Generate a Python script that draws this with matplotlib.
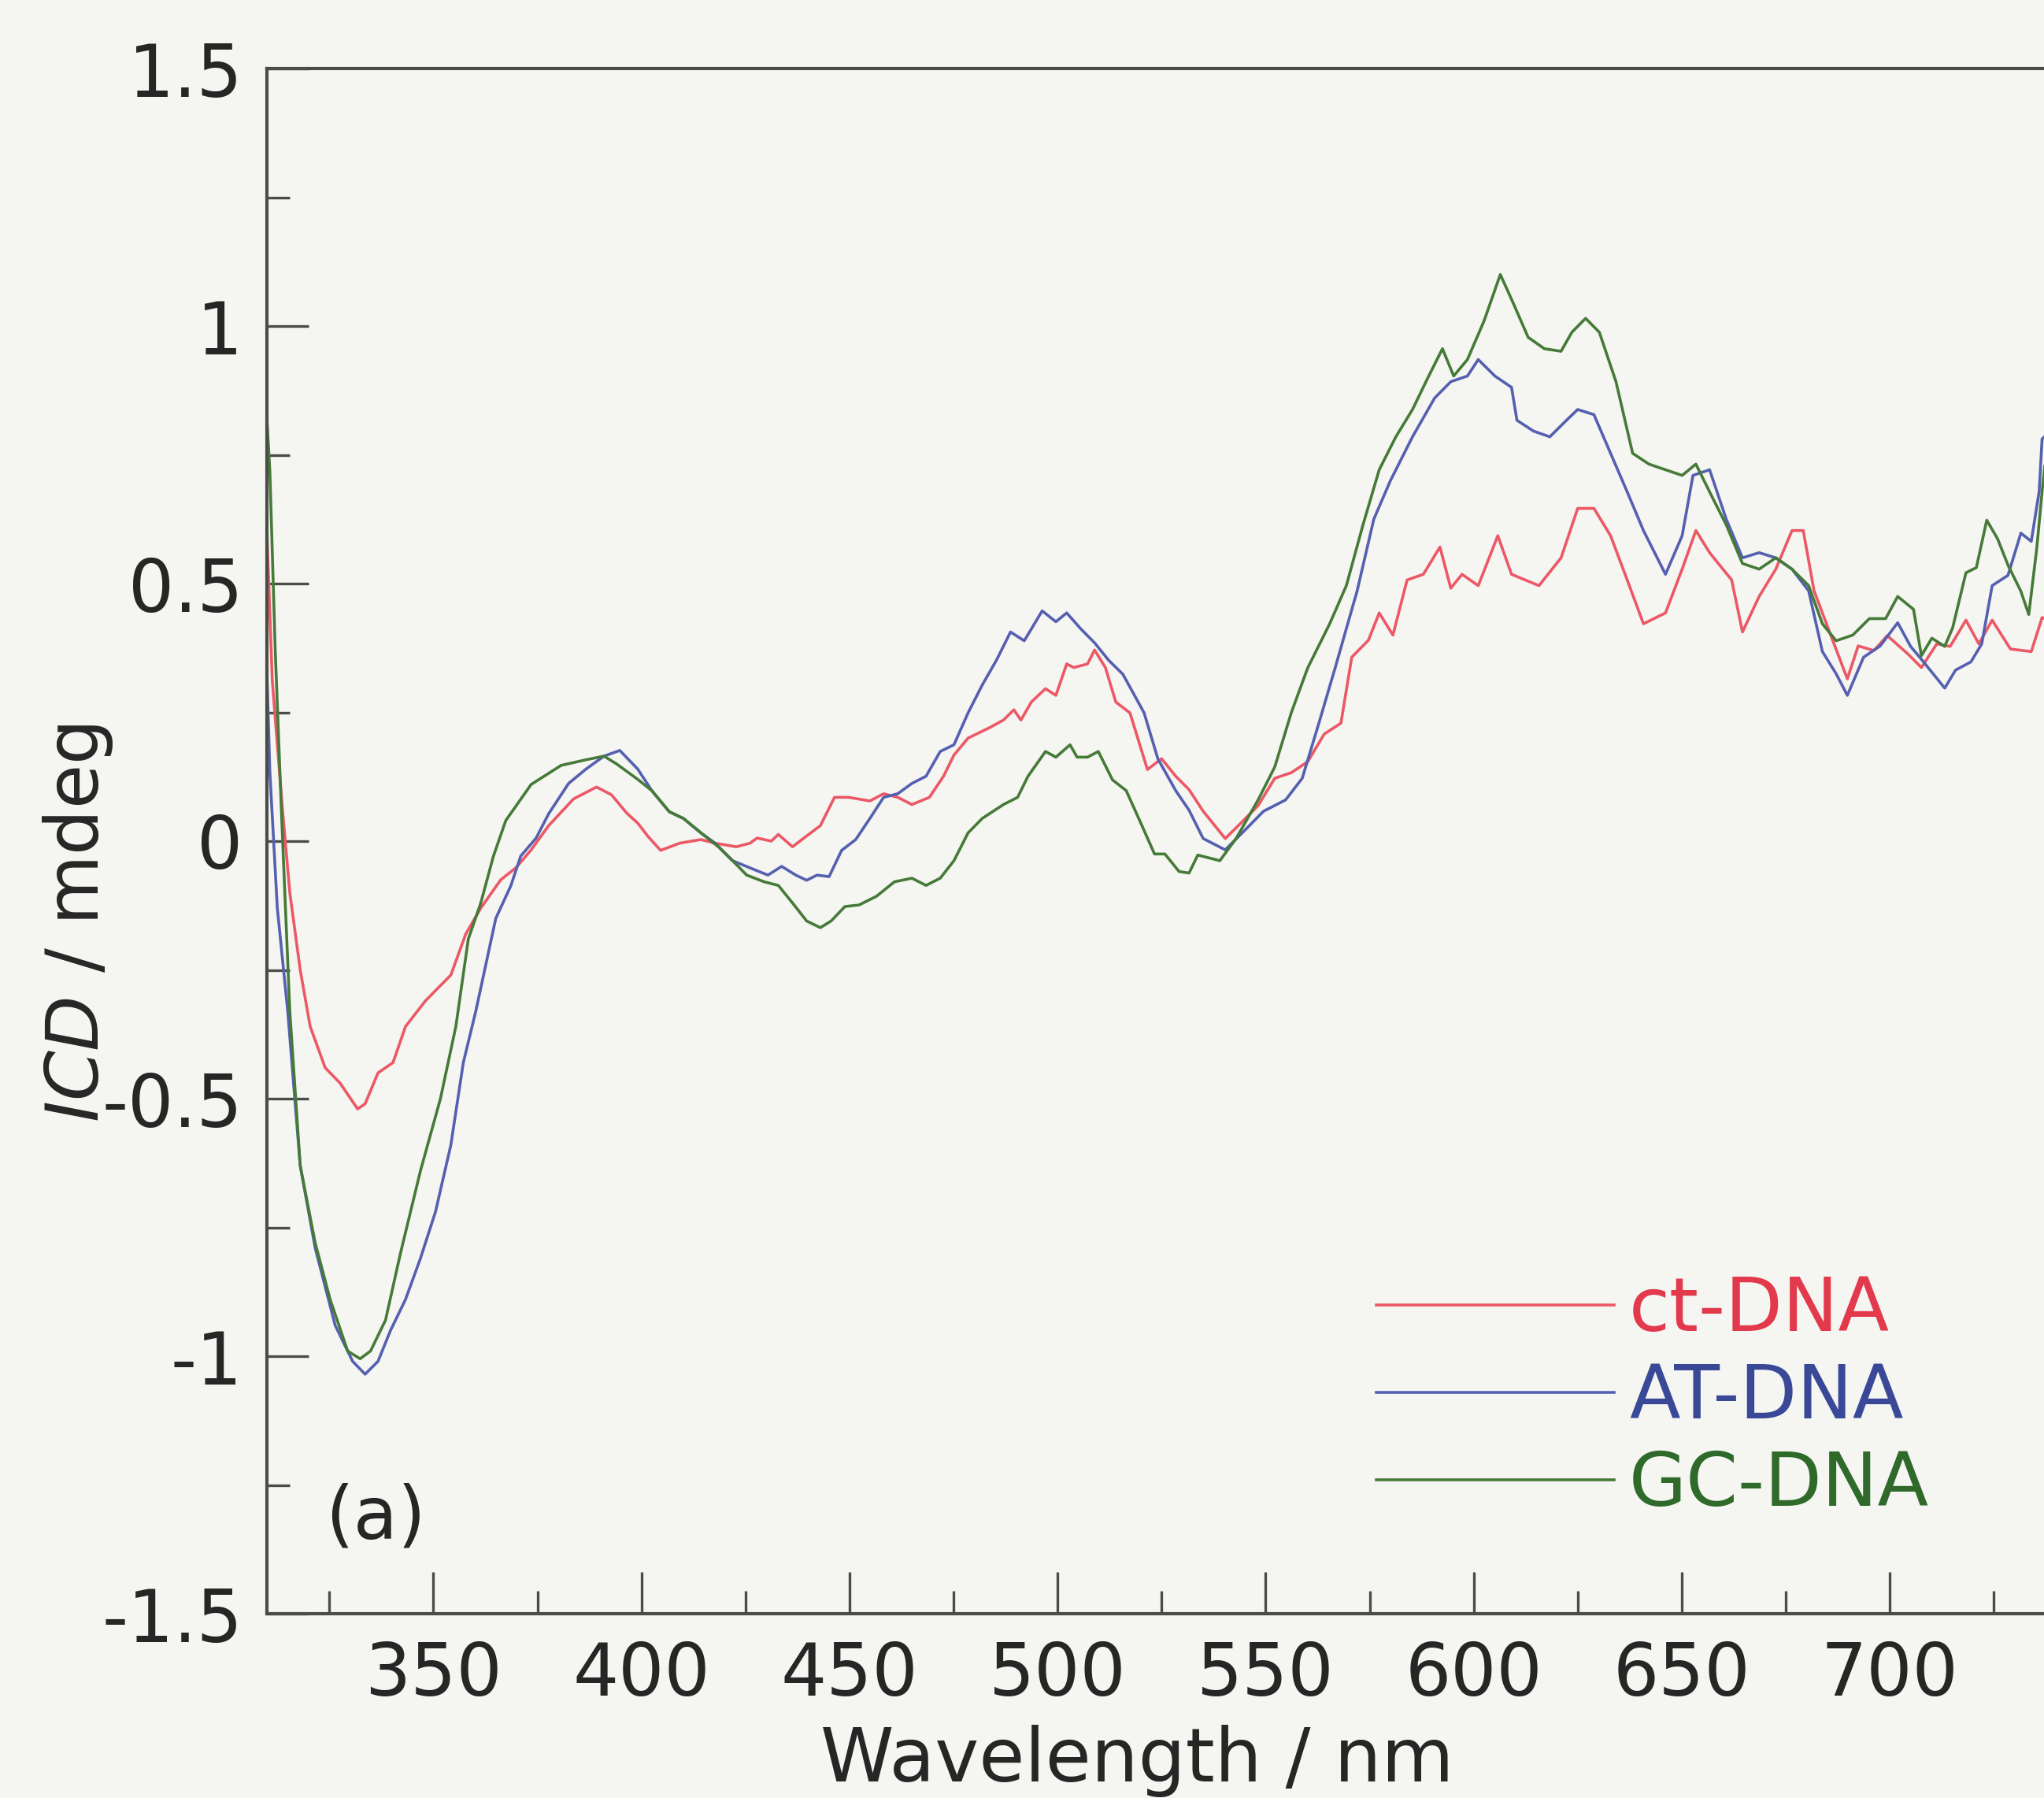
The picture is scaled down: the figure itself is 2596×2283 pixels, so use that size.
import matplotlib
matplotlib.use("Agg")
import matplotlib.pyplot as plt
from matplotlib.ticker import MultipleLocator, FixedLocator

# ---------------------------------------------------------------
# Induced CD spectra (ICD / mdeg) against wavelength (nm)
# ---------------------------------------------------------------
wl_ct = [310, 311.3, 313.7, 315.5, 318, 320.4, 324, 327.6, 331.8, 333.6, 336.7,
         340.3, 343.3, 348.1, 354.2, 357.8, 361.4, 366.2, 369.8, 373.5, 377.7,
         383.7, 389.2, 392.8, 396.4, 399.1, 401.6, 404.6, 409.2, 414.3, 417.7,
         422.8, 426.1, 427.8, 431.2, 432.9, 436.3, 439.7, 443, 446.4, 449.8,
         454.9, 458.2, 461.6, 465, 469.2, 472.6, 475.1, 478.5, 483.6, 487,
         489.5, 491.2, 493.7, 497.1, 499.6, 502.2, 503.9, 507.2, 508.9, 511.5,
         514, 517.4, 521.6, 525, 528.4, 531.6, 535, 540.3, 544.3, 548.2, 552.2,
         556.2, 560.1, 564.1, 568.1, 570.7, 574.7, 577.3, 580.6, 584, 587.9,
         591.9, 594.5, 597.2, 601.1, 605.8, 609.1, 615.7, 621, 625, 628.9,
         632.9, 636.9, 640.8, 646.1, 650.1, 653.4, 656.7, 662, 664.6, 668.6,
         672.6, 676.5, 679.2, 681.8, 685.8, 689.8, 692.4, 696.2, 699.4, 704.4,
         707.6, 711.3, 714.5, 718.3, 721.4, 724.6, 729, 734, 736.6, 738]
icd_ct = [0.60, 0.31, 0.065, -0.10, -0.25, -0.36, -0.44, -0.47, -0.52, -0.51, -0.45,
          -0.43, -0.36, -0.31, -0.26, -0.18, -0.13, -0.075, -0.052, -0.017, 0.03,
          0.082, 0.105, 0.09, 0.055, 0.035, 0.009, -0.018, -0.004, 0.003, -0.004,
          -0.011, -0.004, 0.006, 0.0, 0.013, -0.011, 0.01, 0.03, 0.085, 0.085,
          0.078, 0.092, 0.085, 0.071, 0.085, 0.126, 0.167, 0.20, 0.22, 0.235,
          0.255, 0.235, 0.27, 0.296, 0.283, 0.344, 0.337, 0.344, 0.371, 0.337,
          0.27, 0.249, 0.139, 0.16, 0.126, 0.10, 0.058, 0.005, 0.037, 0.069, 0.122,
          0.133, 0.154, 0.208, 0.229, 0.357, 0.39, 0.443, 0.40, 0.507, 0.518,
          0.571, 0.491, 0.518, 0.496, 0.593, 0.518, 0.496, 0.55, 0.646, 0.646,
          0.593, 0.507, 0.422, 0.443, 0.528, 0.603, 0.56, 0.507, 0.406, 0.475,
          0.528, 0.603, 0.603, 0.486, 0.40, 0.315, 0.379, 0.37, 0.399, 0.363,
          0.337, 0.383, 0.378, 0.429, 0.383, 0.429, 0.373, 0.368, 0.434, 0.43]

wl_at = [310, 310.7, 312.5, 315, 318, 321.6, 326.4, 330.6, 333.6, 336.7, 339.7,
         343.3, 346.9, 350.5, 354.2, 357.2, 360.2, 362.6, 365, 368.6, 371, 374.7,
         377.7, 382.5, 386.7, 391, 394.8, 399.1, 402.5, 406.7, 410.1, 414.3,
         417.7, 421.9, 426.1, 430.4, 433.7, 437.1, 439.7, 442.2, 445.1, 448.1,
         451.5, 454.9, 458.2, 461.6, 465, 468.4, 471.8, 475.1, 478.5, 481.9,
         485.3, 488.7, 492, 496.3, 499.6, 502.2, 505.6, 508.9, 512.3, 515.7,
         520.8, 524.1, 528.4, 531.6, 535, 540.3, 545.6, 549.5, 554.8, 558.8,
         562.8, 566.7, 572, 576, 580, 585.3, 590.6, 594.5, 598.5, 601.1, 605.1,
         609.1, 610.4, 614.4, 618.3, 622.3, 625, 628.9, 632.9, 636.9, 640.8,
         646.1, 650.1, 652.7, 656.7, 660.7, 664.6, 668.6, 672.6, 676.5, 680.5,
         683.8, 687.1, 689.8, 693.7, 697.7, 701.9, 705, 707.6, 713.2, 715.8,
         719.5, 722.1, 724.6, 728.4, 731.5, 734, 735.9, 736.6, 738]
icd_at = [0.33, 0.135, -0.13, -0.33, -0.63, -0.79, -0.94, -1.01, -1.035, -1.01, -0.95,
          -0.89, -0.81, -0.72, -0.59, -0.43, -0.33, -0.24, -0.15, -0.087, -0.029, 0.006,
          0.053, 0.112, 0.14, 0.165, 0.176, 0.14, 0.098, 0.057, 0.044, 0.016,
          -0.004, -0.038, -0.052, -0.066, -0.049, -0.066, -0.076, -0.066, -0.069, -0.018,
          0.003, 0.044, 0.085, 0.092, 0.112, 0.126, 0.174, 0.187, 0.249, 0.303,
          0.351, 0.406, 0.389, 0.447, 0.426, 0.443, 0.412, 0.385, 0.351, 0.324,
          0.249, 0.16, 0.098, 0.06, 0.005, -0.017, 0.026, 0.058, 0.08, 0.122,
          0.229, 0.336, 0.486, 0.625, 0.70, 0.785, 0.86, 0.892, 0.903, 0.935, 0.903,
          0.881, 0.817, 0.796, 0.785, 0.817, 0.838, 0.828, 0.753, 0.678, 0.603,
          0.518, 0.593, 0.71, 0.721, 0.625, 0.55, 0.56, 0.55, 0.528, 0.486,
          0.368, 0.325, 0.283, 0.357, 0.379, 0.424, 0.378, 0.353, 0.297, 0.332,
          0.348, 0.383, 0.496, 0.516, 0.598, 0.582, 0.679, 0.781, 0.79]

wl_gc = [310, 310.7, 312, 313.4, 314.3, 315.5, 318, 321.6, 325.2, 329.4, 332.4,
         334.9, 338.5, 342.1, 346.9, 351.7, 355.4, 358.4, 361.4, 364.4, 367.4,
         373.5, 380.7, 386.7, 391, 394, 399.1, 402.5, 406.7, 410.1, 414.3, 418.5,
         421.9, 425.3, 429.5, 432.9, 436.3, 439.7, 443, 445.6, 448.9, 452.3,
         456.5, 460.8, 465, 468.4, 471.8, 475.1, 478.5, 481.9, 487, 490.4, 492.9,
         497.1, 499.6, 503, 504.7, 507.2, 509.8, 513.2, 516.5, 519.9, 523.3,
         525.8, 529.2, 531.6, 533.7, 539, 542.9, 548.2, 552.2, 556.2, 560.1,
         565.4, 569.4, 573.4, 577.3, 581.3, 585.3, 589.2, 592.5, 595.2, 598.5,
         602.5, 606.4, 609.1, 613.1, 617, 621, 623.6, 626.9, 630.2, 634.2, 638.2,
         642.1, 646.1, 650.1, 653.4, 656.7, 660.7, 664.6, 668.6, 672.6, 676.5,
         680.5, 683.8, 687.1, 691.1, 695.1, 699, 701.9, 705.7, 707.6, 710.1,
         713.2, 715.1, 718.3, 720.8, 723.3, 725.9, 728.4, 731.5, 733.4, 735.3,
         736.6, 738]
icd_gc = [0.82, 0.72, 0.37, 0.076, -0.10, -0.33, -0.63, -0.78, -0.89, -0.99, -1.005,
          -0.99, -0.93, -0.80, -0.64, -0.50, -0.36, -0.19, -0.12, -0.03, 0.04,
          0.11, 0.147, 0.158, 0.165, 0.15, 0.12, 0.098, 0.057, 0.044, 0.016, -0.011,
          -0.038, -0.066, -0.079, -0.086, -0.12, -0.155, -0.168, -0.155, -0.127, -0.124,
          -0.107, -0.079, -0.072, -0.086, -0.072, -0.038, 0.016, 0.044, 0.071, 0.085, 0.126,
          0.174, 0.163, 0.187, 0.163, 0.163, 0.174, 0.119, 0.098, 0.037, -0.025,
          -0.025, -0.059, -0.062, -0.027, -0.038, 0.005, 0.08, 0.144, 0.25, 0.336,
          0.422, 0.496, 0.614, 0.721, 0.785, 0.838, 0.903, 0.956, 0.903, 0.935,
          1.01, 1.10, 1.052, 0.978, 0.956, 0.951, 0.988, 1.015, 0.988, 0.892, 0.753,
          0.732, 0.721, 0.71, 0.732, 0.678, 0.614, 0.539, 0.528, 0.55, 0.528,
          0.496, 0.422, 0.389, 0.40, 0.432, 0.432, 0.475, 0.45, 0.36, 0.394,
          0.378, 0.414, 0.521, 0.531, 0.623, 0.587, 0.536, 0.485, 0.44, 0.567,
          0.679, 0.785]

series_labels = ["ct-DNA", "AT-DNA", "GC-DNA"]
y_tick_values = [-1.5, -1, -0.5, 0, 0.5, 1, 1.5]
y_tick_labels = ["-1.5", "-1", "-0.5", "0", "0.5", "1", "1.5"]
x_tick_values = [350, 400, 450, 500, 550, 600, 650, 700]

line_colors = ["#ec5866", "#5560b0", "#467a38"]
text_colors = ["#e23a4c", "#3a4898", "#2f6a2a"]
axis_color = "#4a4d46"
label_color = "#262626"
paper = "#f5f6f2"

plt.rcParams["font.family"] = ["DejaVu Sans"]
plt.rcParams["mathtext.fontset"] = "dejavusans"

W, H = 2596, 2283
fig = plt.figure(figsize=(W / 100, H / 100), dpi=100, facecolor=paper)

left_px, top_px, bottom_px = 339, 87, 2049
px_per_nm = 5.285
x0, x1 = 310, 750
ax = fig.add_axes([left_px / W, 1 - bottom_px / H,
                   (x1 - x0) * px_per_nm / W, (bottom_px - top_px) / H])
ax.set_facecolor(paper)

for wl, icd, col, lab in zip([wl_ct, wl_at, wl_gc], [icd_ct, icd_at, icd_gc],
                             line_colors, series_labels):
    ax.plot(wl, icd, color=col, lw=2.6, label=lab, solid_joinstyle="round")

ax.set_xlim(x0, x1)
ax.set_ylim(-1.5, 1.5)

ax.xaxis.set_major_locator(FixedLocator(x_tick_values))
ax.xaxis.set_minor_locator(MultipleLocator(25))
ax.yaxis.set_major_locator(FixedLocator(y_tick_values))
ax.set_yticklabels(y_tick_labels)
ax.yaxis.set_minor_locator(MultipleLocator(0.25))

ax.tick_params(which="both", direction="in", color=axis_color, width=2.4,
               top=False, right=False)
ax.tick_params(which="major", length=38, labelsize=66, labelcolor=label_color)
ax.tick_params(which="minor", length=21)
ax.tick_params(axis="y", which="major", pad=22)
ax.tick_params(axis="x", which="major", pad=24)

for side in ["left", "bottom", "top"]:
    ax.spines[side].set_color(axis_color)
    ax.spines[side].set_linewidth(3.0)
ax.spines["right"].set_visible(False)

fig.text(1444 / W, 1 - 2236 / H, "Wavelength / nm", fontsize=68,
         color=label_color, ha="center", va="center")
fig.text(99 / W, 1 - 1172 / H, r"$\mathit{ICD}$ / mdeg", fontsize=66,
         color=label_color, ha="center", va="center", rotation=90)
ax.text(0.032, 0.062, "(a)", transform=ax.transAxes, fontsize=66,
        color=label_color, ha="left", va="center")

leg = ax.legend(loc="upper left", bbox_to_anchor=(1748 / W, 1 - 1618 / H),
                bbox_transform=fig.transFigure, frameon=False, fontsize=68,
                handlelength=3.2, handletextpad=0.2, labelspacing=0.2,
                borderaxespad=0, borderpad=0)
for txt, col in zip(leg.get_texts(), text_colors):
    txt.set_color(col)

fig.savefig("out.png", dpi=100, facecolor=paper)
